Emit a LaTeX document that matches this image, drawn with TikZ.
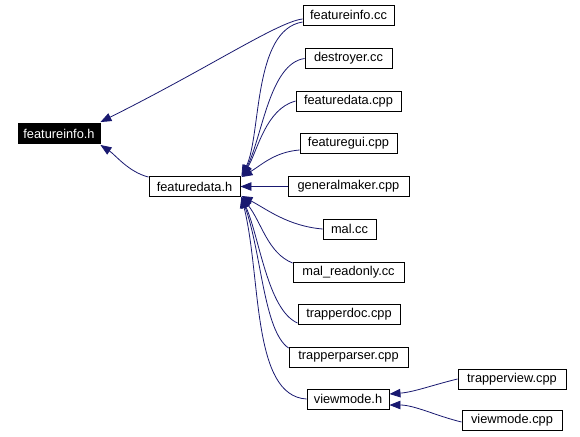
\documentclass[tikz,border=0pt]{standalone}
\usepackage{fontspec}
\setmainfont{Liberation Sans}
\usetikzlibrary{arrows.meta}
\definecolor{edgecol}{HTML}{191970}
\begin{document}
\begin{tikzpicture}[x=1pt,y=-1pt,
  box/.style={draw=black,line width=0.9pt,fill=white,inner sep=0pt,minimum height=20pt,font=\fontsize{12.8}{15}\selectfont,text=black},
  hbox/.style={box,fill=black,text=white},
  edge/.style={draw=edgecol,line width=0.8pt,-{Triangle[length=11pt,width=8.5pt]}}]
\useasboundingbox (0,0) rectangle (580,436);
\node[hbox,minimum width=82pt] (fih) at (59,133.5) {featureinfo.h};
\node[box,minimum width=91pt] (fdh) at (194.5,186.5) {featuredata.h};
\node[box,minimum width=91pt] (fic) at (348.5,15) {featureinfo.cc};
\node[box,minimum width=87pt] (des) at (348.5,58.5) {destroyer.cc};
\node[box,minimum width=105pt] (fdc) at (348.5,101) {featuredata.cpp};
\node[box,minimum width=97pt] (fgc) at (348.5,143) {featuregui.cpp};
\node[box,minimum width=121pt] (gmc) at (348.5,186.5) {generalmaker.cpp};
\node[box,minimum width=53pt] (mal) at (349.5,229) {mal.cc};
\node[box,minimum width=111pt] (mro) at (348.5,272) {mal\_readonly.cc};
\node[box,minimum width=102pt] (tdc) at (349,314) {trapperdoc.cpp};
\node[box,minimum width=119pt] (tpc) at (348.5,357) {trapperparser.cpp};
\node[box,minimum width=82pt] (vmh) at (348,399) {viewmode.h};
\node[box,minimum width=108pt] (tvc) at (512,379) {trapperview.cpp};
\node[box,minimum width=100pt] (vmc) at (512,420) {viewmode.cpp};
% edges
\draw[edge] ([yshift=-4pt]fic.west) .. controls +(-25,3) and +(110,-55) .. ([yshift=1pt]fih.north east);
\draw[edge] ([yshift=-7pt]fic.west) .. controls +(-50,8) and +(20,-40) .. ([xshift=1pt]fdh.north east);
\draw[edge] (des.west) .. controls +(-35,5) and +(20,-40) .. ([xshift=2pt]fdh.north east);
\draw[edge] (fdc.west) .. controls +(-30,8) and +(15,-25) .. ([xshift=2pt]fdh.north east);
\draw[edge] ([yshift=-7pt]fgc.west) .. controls +(-25,2) and +(20,-12) .. ([xshift=1pt,yshift=-1pt]fdh.north east);
\draw[edge] (gmc.west) -- (fdh.east);
\draw[edge] (mal.west) .. controls +(-35,-3) and +(25,13) .. ([xshift=1pt,yshift=1pt]fdh.south east);
\draw[edge] ([yshift=9pt]mro.west) .. controls +(-25,-10) and +(20,25) .. ([xshift=1pt]fdh.south east);
\draw[edge] ([yshift=-9pt]tdc.west) .. controls +(-30,-13) and +(18,40) .. ([xshift=1pt]fdh.south east);
\draw[edge] ([yshift=9pt]tpc.west) .. controls +(-25,-17) and +(20,55) .. ([xshift=1pt]fdh.south east);
\draw[edge] (vmh.west) .. controls +(-55,-3) and +(20,80) .. ([xshift=1pt]fdh.south east);
\draw[edge] ([yshift=-1pt]fdh.north west) .. controls +(-20,-5) and +(15,10) .. ([yshift=-1pt]fih.south east);
\draw[edge] (tvc.west) .. controls +(-25,6) and +(25,-2) .. ([yshift=5pt]vmh.east);
\draw[edge] ([yshift=-2pt]vmc.west) .. controls +(-25,-6) and +(25,0) .. ([yshift=-6pt]vmh.east);
\end{tikzpicture}
\end{document}
